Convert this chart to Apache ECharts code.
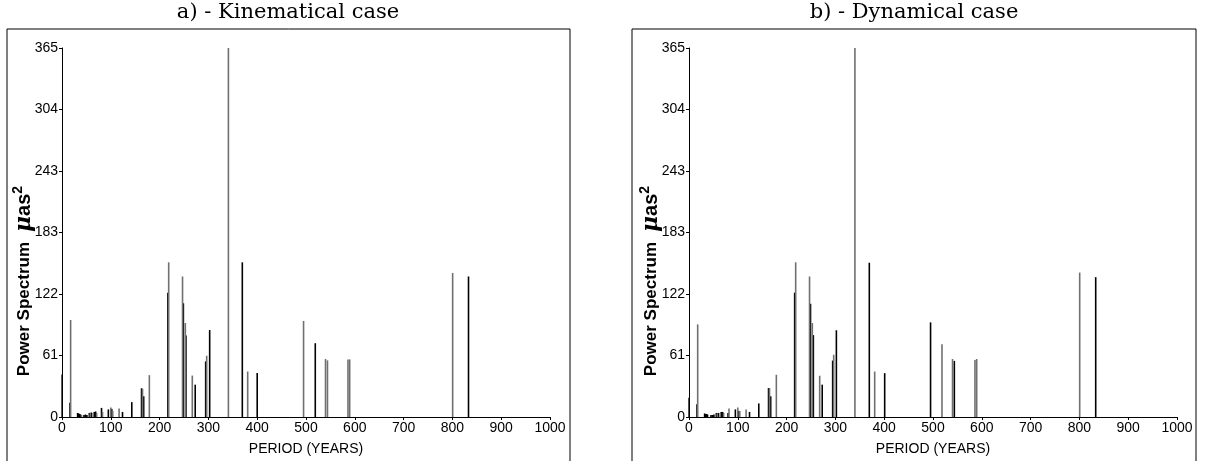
<!DOCTYPE html>
<html>
<head>
<meta charset="utf-8">
<script src="https://cdn.jsdelivr.net/npm/echarts@6/dist/echarts.min.js"></script>
<style>
html,body{margin:0;padding:0;background:#fff;}
#chart{width:1205px;height:461px;}
</style>
</head>
<body>
<div id="chart"></div>
<script>
// ---- data ----
var titles = ['a) - Kinematical case', 'b) - Dynamical case'];
var xAxisName = 'PERIOD (YEARS)';
var yTickLabels = ['0', '61', '122', '183', '243', '304', '365'];
var yMax = 365;

// Kinematical case: black lines
var kinBlackPeriod = [0, 16.4, 32, 34, 36, 38, 45, 48, 51, 56, 60, 66, 69, 81, 95, 102, 124, 143, 163, 167.4, 217, 248.7, 254, 273, 294.4, 302.6, 369.5, 400, 519, 833];
var kinBlackPower  = [42, 14, 4, 3.5, 3, 2.5, 2, 2.5, 2, 4, 4.5, 5, 5.5, 9, 7.5, 8, 5, 14.7, 28.4, 20.5, 123, 112.5, 80.5, 32, 55, 86, 153, 43.4, 73, 139];
// Kinematical case: grey lines
var kinGreyPeriod = [17.7, 40, 58, 64, 71, 83, 100, 104, 117, 165, 179, 218.6, 247, 252.7, 267, 296.5, 341, 380.5, 495, 540, 544, 586, 589.5, 800.5];
var kinGreyPower  = [96, 2, 3.5, 4, 4, 5, 9.5, 6, 8.5, 28, 41.4, 153, 139, 93, 41, 60.6, 365, 45, 95, 57.4, 56, 57, 57, 142.5];

// Dynamical case: black lines
var dynBlackPeriod = [0, 16.4, 32, 34, 36, 38, 45, 48, 51, 56, 60, 66, 69, 80, 95, 102, 124, 143, 163, 167.4, 216.5, 249, 254.8, 273, 294.4, 302, 369.5, 401, 495, 543.7, 833.4];
var dynBlackPower  = [19, 12.7, 3.5, 3, 3, 2.5, 2, 2, 2.5, 4, 4, 5, 5, 4, 7.5, 6, 5, 13.4, 28.7, 20.5, 123, 112, 81, 32, 55.8, 85.8, 152.6, 43.4, 93.6, 55.5, 138.3];
// Dynamical case: grey lines
var dynGreyPeriod = [17.8, 58, 64, 71, 82, 100, 104, 117, 165, 179, 218.6, 247, 252.7, 267.8, 296.5, 340, 380.5, 518.4, 540, 586, 589.5, 800.6];
var dynGreyPower  = [91.6, 3.5, 4, 4, 8.5, 9.5, 6, 7.5, 28.7, 41.8, 153, 139, 93, 40.8, 61.6, 365, 45, 72, 57.4, 56.4, 57.4, 142.9];

function pairs(xs, ys) { return xs.map(function (x, i) { return [x, ys[i]]; }); }

var chart = echarts.init(document.getElementById('chart'), null, {renderer: 'canvas'});

var grids = [
  {left: 62, right: 1205 - 550, top: 48, bottom: 461 - 421},
  {left: 689, right: 1205 - 1177, top: 48, bottom: 461 - 421}
];

function xAxisCfg(i) {
  return {
    type: 'value', gridIndex: i, min: 0, max: 1000, interval: 100,
    name: xAxisName, nameLocation: 'middle', nameGap: 25,
    nameTextStyle: {fontFamily: 'Liberation Sans', fontSize: 14, color: '#000'},
    axisLine: {show: true, lineStyle: {color: '#000', width: 1}},
    axisTick: {show: true, length: 3, lineStyle: {color: '#000'}},
    axisLabel: {fontFamily: 'Liberation Sans', fontSize: 14, color: '#000', margin: 4,
      formatter: function (v) { return String(v); }},
    splitLine: {show: false}
  };
}
function yAxisCfg(i) {
  return {
    type: 'value', gridIndex: i, min: 0, max: yMax, interval: yMax / 6,
    axisLine: {show: true, lineStyle: {color: '#000', width: 1}},
    axisTick: {show: true, length: 3, lineStyle: {color: '#000'}},
    axisLabel: {
      fontFamily: 'Liberation Sans', fontSize: 14, color: '#000', margin: 4,
      formatter: function (v) { return yTickLabels[Math.round(v / (yMax / 6))]; }
    },
    splitLine: {show: false}
  };
}

function barSeries(i, data, color) {
  return {
    type: 'bar', xAxisIndex: i, yAxisIndex: i, data: data,
    barWidth: 1.6, barGap: '-100%',
    itemStyle: {color: color},
    silent: true
  };
}

function yName(cx) {
  return {
    type: 'text', x: cx, y: 281, rotation: Math.PI / 2,
    style: {
      text: '{a|Power Spectrum}   {m|μ}{b|as}{s|2}',
      align: 'center', verticalAlign: 'middle',
      rich: {
        a: {fontFamily: 'Liberation Sans', fontWeight: 'bold', fontSize: 17, fill: '#000', lineHeight: 26},
        b: {fontFamily: 'Liberation Sans', fontWeight: 'bold', fontSize: 20, fill: '#000', lineHeight: 26},
        m: {fontFamily: 'DejaVu Serif', fontStyle: 'italic', fontWeight: 'bold', fontSize: 22, fill: '#000', lineHeight: 26},
        s: {fontFamily: 'Liberation Sans', fontWeight: 'bold', fontSize: 14, fill: '#000', verticalAlign: 'top', lineHeight: 26}
      }
    }
  };
}

var option = {
  animation: false,
  backgroundColor: '#fff',
  grid: grids,
  xAxis: [xAxisCfg(0), xAxisCfg(1)],
  yAxis: [yAxisCfg(0), yAxisCfg(1)],
  series: [
    barSeries(0, pairs(kinBlackPeriod, kinBlackPower), '#000'),
    barSeries(0, pairs(kinGreyPeriod, kinGreyPower), '#707070'),
    barSeries(1, pairs(dynBlackPeriod, dynBlackPower), '#000'),
    barSeries(1, pairs(dynGreyPeriod, dynGreyPower), '#707070')
  ],
  graphic: [
    {type: 'rect', shape: {x: 7, y: 29, width: 563, height: 460}, style: {fill: 'none', stroke: '#000', lineWidth: 1}, silent: true},
    {type: 'rect', shape: {x: 632, y: 29, width: 564, height: 460}, style: {fill: 'none', stroke: '#000', lineWidth: 1}, silent: true},
    {type: 'text', x: 288, y: 13, style: {text: titles[0], align: 'center', verticalAlign: 'middle', fontFamily: 'DejaVu Serif', fontSize: 21, fill: '#000'}},
    {type: 'text', x: 914, y: 13, style: {text: titles[1], align: 'center', verticalAlign: 'middle', fontFamily: 'DejaVu Serif', fontSize: 21, fill: '#000'}},
    yName(24),
    yName(651)
  ]
};
chart.setOption(option);
</script>
</body>
</html>
